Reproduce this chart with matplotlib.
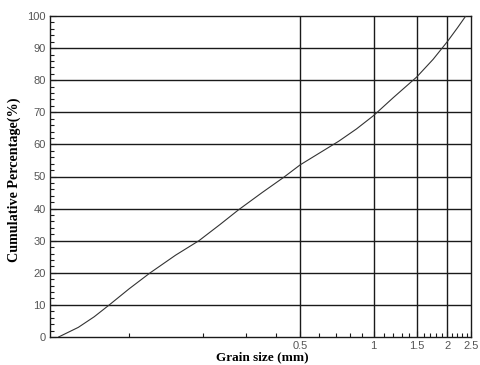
import matplotlib
matplotlib.use("Agg")
import matplotlib.pyplot as plt
from matplotlib.ticker import FixedLocator, FixedFormatter, NullFormatter

# Grain size distribution (cumulative passing)
grain_size_mm = [0.0515, 0.062, 0.072, 0.083, 0.10, 0.122, 0.155, 0.193, 0.235,
                 0.28, 0.35, 0.428, 0.5, 0.6, 0.72, 0.85, 1.0, 1.2, 1.5, 1.75,
                 2.0, 2.2, 2.38]
cumulative_pct = [0, 3.0, 6.3, 10, 15.0, 20, 25.5, 30, 35.0,
                  39.6, 45.0, 49.7, 53.6, 57.3, 61.0, 64.8, 69, 74.5, 81, 86.5,
                  92, 96.3, 100]

x_major = [0.5, 1, 1.5, 2, 2.5]
x_major_labels = ["0.5", "1", "1.5", "2", "2.5"]
x_minor = [0.1, 0.2, 0.3, 0.4, 0.6, 0.7, 0.8, 0.9, 1.1, 1.2, 1.3, 1.4,
           1.6, 1.7, 1.8, 1.9, 2.1, 2.2, 2.3, 2.4]
x_grid = [0.5, 1, 1.5, 2]
y_major = list(range(0, 101, 10))

fig = plt.figure(figsize=(4.8, 3.65), dpi=100)
ax = fig.add_axes([50 / 480, 28 / 365, 421 / 480, 321 / 365])

ax.set_xscale("log")
ax.set_xlim(0.0475, 2.5)
ax.set_ylim(0, 100)

# horizontal and vertical grid lines
for yv in y_major[1:-1]:
    ax.axhline(yv, color="#1a1a1a", lw=1.0, zorder=1)
for xv in x_grid:
    ax.axvline(xv, color="#1a1a1a", lw=1.0, zorder=1)

ax.plot(grain_size_mm, cumulative_pct, color="#333333", lw=0.8, zorder=3)

ax.xaxis.set_major_locator(FixedLocator(x_major))
ax.xaxis.set_major_formatter(FixedFormatter(x_major_labels))
ax.xaxis.set_minor_locator(FixedLocator(x_minor))
ax.xaxis.set_minor_formatter(NullFormatter())
ax.yaxis.set_major_locator(FixedLocator(y_major))
ax.yaxis.set_minor_locator(FixedLocator([v for v in range(0, 101, 2) if v % 10]))

ax.tick_params(which="both", direction="in", colors="#1a1a1a",
               labelcolor="#555555", labelsize=8, width=0.8)
ax.tick_params(which="major", length=4, pad=3)
ax.tick_params(which="minor", length=3)
for lab in ax.get_xticklabels() + ax.get_yticklabels():
    lab.set_family("Liberation Sans")

for sp in ax.spines.values():
    sp.set_linewidth(1.0)
    sp.set_color("#1a1a1a")

ax.set_xlabel("Grain size (mm)", family="Liberation Serif", fontweight="bold",
              fontsize=9.5)
ax.xaxis.set_label_coords(0.504, -0.045)
ax.set_ylabel("Cumulative Percentage(%)", family="Liberation Serif",
              fontweight="bold", fontsize=10.2)
ax.yaxis.set_label_coords(-0.068, 0.49)

fig.savefig("out.png", dpi=100)
